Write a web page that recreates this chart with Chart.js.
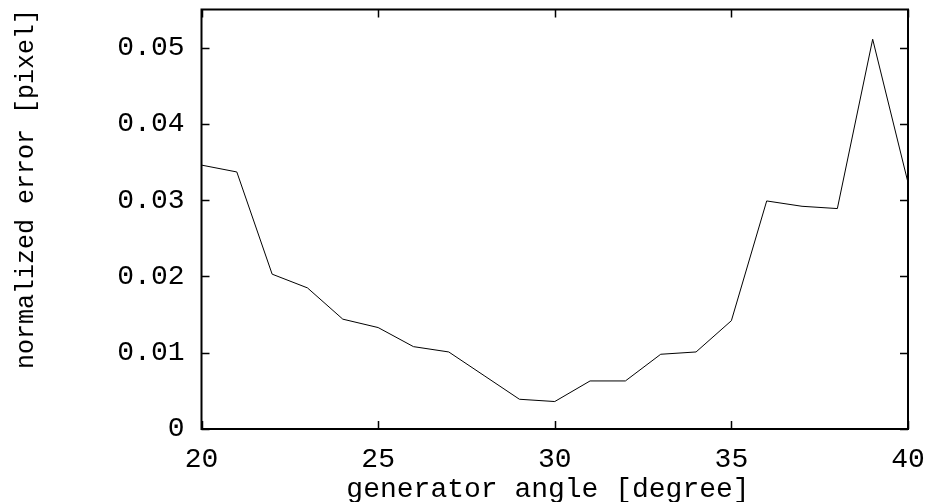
<!DOCTYPE html>
<html><head><meta charset="utf-8">
<script src="https://cdn.jsdelivr.net/npm/chart.js@4/dist/chart.umd.min.js"></script>
<style>html,body{margin:0;padding:0;background:#fff;overflow:hidden;} #wrap{width:925px;height:502px;position:relative;}</style>
</head><body><div id="wrap"><canvas id="c" width="925" height="502"></canvas></div>
<script>
const angles = [20,21,22,23,24,25,26,27,28,29,30,31,32,33,34,35,36,37,38,39,40];
const errors = [0.0346,0.0337,0.0203,0.0185,0.0144,0.0133,0.0108,0.0101,0.0070,0.0039,0.0036,0.0063,0.0063,0.0098,0.0101,0.0142,0.0299,0.0292,0.0289,0.0511,0.0323];
const xTicks = [20,25,30,35,40];
const yTicks = [0,0.01,0.02,0.03,0.04,0.05];
const yTickLabels = ['0','0.01','0.02','0.03','0.04','0.05'];
const xTitle = 'generator angle [degree]';
const yTitle = 'normalized error [pixel]';

const FONT = '"Liberation Mono", "Courier New", monospace';

const framePlugin = {
  id: 'frame',
  afterDraw(chart) {
    const ctx = chart.ctx, a = chart.chartArea;
    const xs = chart.scales.x, ys = chart.scales.y;
    ctx.save();
    ctx.strokeStyle = '#000';
    ctx.lineWidth = 1.5;
    const tl = 8;
    ctx.beginPath();
    xTicks.forEach(v => {
      const px = Math.round(xs.getPixelForValue(v)) + 0.5;
      ctx.moveTo(px, a.bottom); ctx.lineTo(px, a.bottom - tl);
      ctx.moveTo(px, a.top); ctx.lineTo(px, a.top + tl);
    });
    yTicks.forEach(v => {
      const py = Math.round(ys.getPixelForValue(v)) + 0.5;
      ctx.moveTo(a.left, py); ctx.lineTo(a.left + tl, py);
      ctx.moveTo(a.right, py); ctx.lineTo(a.right - tl, py);
    });
    ctx.stroke();
    ctx.lineWidth = 2;
    ctx.strokeRect(a.left, a.top, a.right - a.left, a.bottom - a.top);
    // titles
    ctx.fillStyle = '#000';
    ctx.font = '28px ' + FONT;
    ctx.textAlign = 'center';
    ctx.textBaseline = 'alphabetic';
    ctx.fillText(xTitle, 548, 497);
    ctx.save();
    ctx.translate(33, 189);
    ctx.rotate(-Math.PI / 2);
    ctx.font = '25px ' + FONT;
    ctx.fillText(yTitle, 0, 0);
    ctx.restore();
    ctx.restore();
  }
};

function zeroPad(s) { s.paddingLeft = 0; s.paddingRight = 0; s.paddingTop = 0; s.paddingBottom = 0; }

new Chart(document.getElementById('c'), {
  type: 'line',
  data: {
    datasets: [{
      data: angles.map((x, i) => ({ x: x, y: errors[i] })),
      borderColor: '#000',
      borderWidth: 1,
      pointRadius: 0,
      tension: 0,
      fill: false
    }]
  },
  options: {
    responsive: false,
    animation: false,
    events: [],
    layout: { padding: { top: 9.5, right: 17, left: 0, bottom: 0 } },
    plugins: { legend: { display: false }, tooltip: { enabled: false }, title: { display: false } },
    scales: {
      x: {
        type: 'linear', min: 20, max: 40,
        afterBuildTicks: s => { s.ticks = xTicks.map(v => ({ value: v })); },
        afterFit: s => { s.height = 73; zeroPad(s); },
        grid: { display: false, drawTicks: false },
        border: { display: false },
        ticks: { color: '#000', font: { family: FONT, size: 28 }, padding: 14, maxRotation: 0, autoSkip: false,
                 callback: v => String(v) }
      },
      y: {
        type: 'linear', min: 0, max: 0.055,
        afterBuildTicks: s => { s.ticks = yTicks.map(v => ({ value: v })); },
        afterFit: s => { s.width = 201.5; zeroPad(s); },
        grid: { display: false, drawTicks: false },
        border: { display: false },
        ticks: { color: '#000', font: { family: FONT, size: 28 }, padding: 17, autoSkip: false,
                 callback: (v) => yTickLabels[yTicks.findIndex(t => Math.abs(t - v) < 1e-9)] }
      }
    }
  },
  plugins: [framePlugin]
});
</script>
</body></html>
